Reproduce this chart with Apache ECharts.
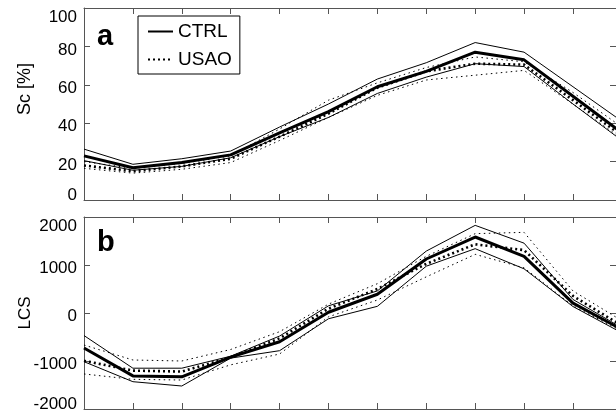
<!DOCTYPE html>
<html>
<head>
<meta charset="utf-8">
<script src="https://cdn.jsdelivr.net/npm/echarts@6/dist/echarts.min.js"></script>
<style>
html,body{margin:0;padding:0;background:#fff;}
#chart{width:616px;height:413px;}
</style>
</head>
<body>
<div id="chart"></div>
<script>
// month index (0 = first month); last point lies just beyond the right edge
const monthIdx = [0, 1, 2, 3, 4, 5, 6, 7, 8, 9, 10, 11];

// Panel a: Sc [%]
const scCtrlMean  = [23, 16.8, 19.5, 23.5, 35, 46, 59, 67, 77, 73, 54, 35];
const scCtrlUpper = [26.5, 18.6, 21.5, 25.5, 38, 50, 63, 71.5, 82, 77, 59, 41];
const scCtrlLower = [20.5, 15.5, 17.5, 22, 33, 43, 55.5, 64, 71, 69.5, 50, 31];
const scUsaoMean  = [18, 15, 17.5, 21.5, 33, 45, 58.5, 67, 71, 70.5, 52, 33.5];
const scUsaoUpper = [20, 16.5, 19, 23, 37, 52, 61, 69, 74.5, 72, 56, 38];
const scUsaoLower = [16.5, 14, 16, 19.5, 31, 43, 54.5, 62.5, 65, 67.5, 50, 32];

// Panel b: LCS
const lcsCtrlMean  = [-730, -1310, -1330, -920, -600, 15, 390, 1125, 1583, 1178, 205, -345];
const lcsCtrlUpper = [-470, -1150, -1150, -900, -480, 150, 460, 1290, 1826, 1455, 282, -309];
const lcsCtrlLower = [-1014, -1431, -1521, -940, -785, -120, 139, 975, 1340, 920, 135, -414];
const lcsUsaoMean  = [-995, -1200, -1220, -924, -528, 90, 500, 1025, 1431, 1310, 355, -265];
const lcsUsaoUpper = [-667, -979, -1000, -760, -389, 185, 611, 1181, 1653, 1680, 460, -161];
const lcsUsaoLower = [-1270, -1382, -1396, -1080, -854, -80, 271, 753, 1222, 940, 150, -380];

const scTicks = [0, 20, 40, 60, 80, 100];
const lcsTicks = [-2000, -1000, 0, 1000, 2000];
const panelLetters = ['a', 'b'];
const seriesNames = ['CTRL', 'USAO'];
const yNames = ['Sc [%]', 'LCS'];

const FONT = "'Liberation Sans', Arial, Helvetica, sans-serif";
const AX = '#555';

function pairs(vals) { return monthIdx.map((x, i) => [x, vals[i]]); }

function labelFmt(minV, maxV) {
  return function (v) {
    if (v === maxV) return '{t|' + v + '}';
    if (v === minV) return '{b|' + v + '}';
    return '{m|' + v + '}';
  };
}
const richLab = {
  t: { fontSize: 17, fontFamily: FONT, color: '#000', padding: [19, 0, 0, 0] },
  b: { fontSize: 17, fontFamily: FONT, color: '#000', padding: [0, 0, 9, 0] },
  m: { fontSize: 17, fontFamily: FONT, color: '#000', padding: [7, 0, 0, 0] }
};

function xAxes(gi) {
  const base = {
    type: 'value', gridIndex: gi, min: 0, max: 10.88, interval: 1,
    axisLine: { show: true, onZero: false, lineStyle: { color: AX, width: 1 } },
    axisTick: { show: true, inside: true, length: 6, lineStyle: { color: AX, width: 1 } },
    axisLabel: { show: false }, splitLine: { show: false }
  };
  return [Object.assign({ position: 'bottom' }, base), Object.assign({ position: 'top' }, base)];
}
function yAxes(gi, minV, maxV, interval, name, nameSize, namePad) {
  const base = {
    type: 'value', gridIndex: gi, min: minV, max: maxV, interval: interval,
    axisLine: { show: true, onZero: false, lineStyle: { color: AX, width: 1 } },
    axisTick: { show: true, inside: true, length: 6, lineStyle: { color: AX, width: 1 } },
    splitLine: { show: false }
  };
  return [
    Object.assign({}, base, {
      position: 'left',
      name: name, nameLocation: 'middle', nameGap: 50, nameMoveOverlap: false,
      nameTextStyle: { fontSize: nameSize, fontFamily: FONT, color: '#000', padding: namePad },
      axisLabel: { show: true, margin: 7, formatter: labelFmt(minV, maxV), rich: richLab, fontSize: 17, fontFamily: FONT, color: '#000' }
    }),
    Object.assign({}, base, { position: 'right', axisLabel: { show: false } })
  ];
}

const thinSolid = { color: '#000', width: 1, type: 'solid' };
const thinDot = { color: '#000', width: 1, type: [1.5, 3.5] };
const boldSolid = { color: '#000', width: 3, type: 'solid' };
const boldDot = { color: '#000', width: 2.6, type: [2, 3] };

function mk(name, vals, xi, yi, style, z) {
  return { name: name, type: 'line', xAxisIndex: xi, yAxisIndex: yi, data: pairs(vals),
    symbol: 'none', lineStyle: style, itemStyle: { color: '#000' }, z: z, silent: true, animation: false, clip: true };
}

const option = {
  backgroundColor: '#fff',
  animation: false,
  grid: [
    { left: 84, top: 8, right: 0, height: 192, containLabel: false },
    { left: 84, top: 217, right: 0, height: 192, containLabel: false }
  ],
  xAxis: [].concat(xAxes(0), xAxes(1)),
  yAxis: [].concat(yAxes(0, 0, 100, 20, yNames[0], 18, [0, 0, 0, 30]), yAxes(1, -2000, 2000, 1000, yNames[1], 17, [0, 0, 0, 0])),
  legend: {
    data: seriesNames,
    orient: 'vertical', left: 138, top: 16,
    itemWidth: 25, itemHeight: 14, itemGap: 9,
    padding: [6, 8, 5, 9],
    borderColor: '#000', borderWidth: 1,
    backgroundColor: '#fff',
    itemStyle: { color: 'rgba(0,0,0,0)', borderColor: 'rgba(0,0,0,0)', borderWidth: 0, opacity: 0 },
    textStyle: { fontSize: 19, fontFamily: FONT, color: '#000' },
    selectedMode: false
  },
  graphic: [
    { type: 'text', left: 97, top: 22, style: { text: panelLetters[0], font: 'bold 29px ' + FONT, fill: '#000' } },
    { type: 'text', left: 97, top: 228, style: { text: panelLetters[1], font: 'bold 29px ' + FONT, fill: '#000' } }
  ],
  series: [
    mk('CTRL upper a', scCtrlUpper, 0, 0, thinSolid, 2),
    mk('CTRL lower a', scCtrlLower, 0, 0, thinSolid, 2),
    mk('USAO upper a', scUsaoUpper, 0, 0, thinDot, 2),
    mk('USAO lower a', scUsaoLower, 0, 0, thinDot, 2),
    mk(seriesNames[1], scUsaoMean, 0, 0, boldDot, 3),
    mk(seriesNames[0], scCtrlMean, 0, 0, boldSolid, 4),
    mk('CTRL upper b', lcsCtrlUpper, 2, 2, thinSolid, 2),
    mk('CTRL lower b', lcsCtrlLower, 2, 2, thinSolid, 2),
    mk('USAO upper b', lcsUsaoUpper, 2, 2, thinDot, 2),
    mk('USAO lower b', lcsUsaoLower, 2, 2, thinDot, 2),
    mk('USAO b', lcsUsaoMean, 2, 2, boldDot, 3),
    mk('CTRL b', lcsCtrlMean, 2, 2, boldSolid, 4)
  ]
};

const chart = echarts.init(document.getElementById('chart'), null, { renderer: 'canvas' });
chart.setOption(option);
</script>
</body>
</html>
